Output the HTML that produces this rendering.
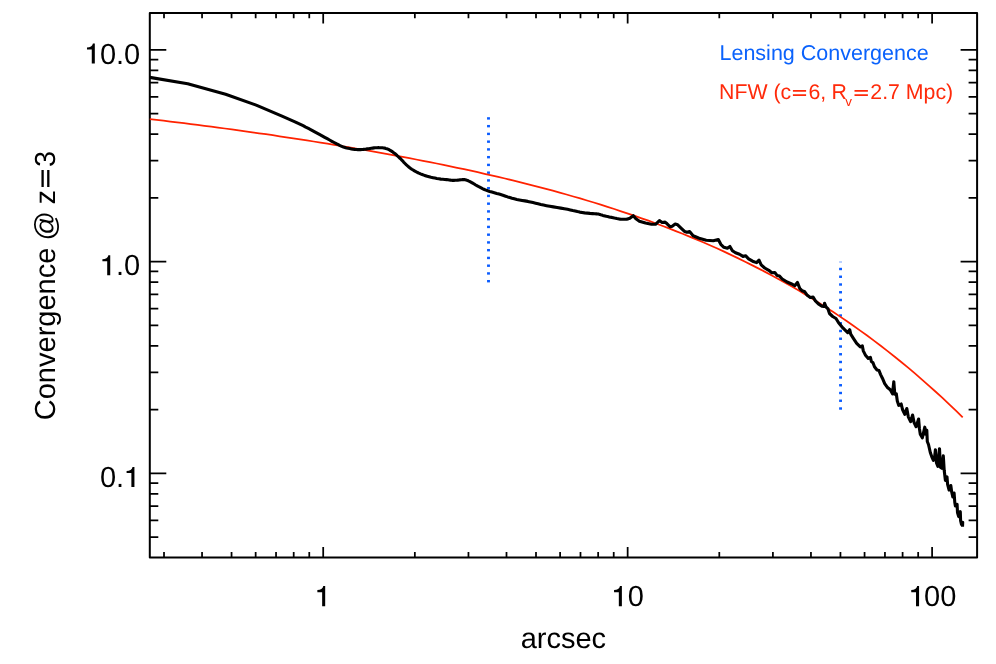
<!DOCTYPE html>
<html><head><meta charset="utf-8"><title>Convergence profile</title>
<style>
html,body{margin:0;padding:0;background:#fff;}
body{width:996px;height:664px;overflow:hidden;}
svg{display:block;font-family:"Liberation Sans",sans-serif;will-change:transform;text-rendering:geometricPrecision;}

</style></head><body>
<svg width="996" height="664" viewBox="0 0 996 664">
<rect width="996" height="664" fill="#fff"/>
<path d="M149.8,537.14h8.5 M977.1,537.14h-8.5 M149.8,520.38h8.5 M977.1,520.38h-8.5 M149.8,506.20h8.5 M977.1,506.20h-8.5 M149.8,493.92h8.5 M977.1,493.92h-8.5 M149.8,483.09h8.5 M977.1,483.09h-8.5 M149.8,473.40h16.5 M977.1,473.40h-16.5 M149.8,409.66h8.5 M977.1,409.66h-8.5 M149.8,372.37h8.5 M977.1,372.37h-8.5 M149.8,345.91h8.5 M977.1,345.91h-8.5 M149.8,325.39h8.5 M977.1,325.39h-8.5 M149.8,308.63h8.5 M977.1,308.63h-8.5 M149.8,294.45h8.5 M977.1,294.45h-8.5 M149.8,282.17h8.5 M977.1,282.17h-8.5 M149.8,271.34h8.5 M977.1,271.34h-8.5 M149.8,261.65h16.5 M977.1,261.65h-16.5 M149.8,197.91h8.5 M977.1,197.91h-8.5 M149.8,160.62h8.5 M977.1,160.62h-8.5 M149.8,134.16h8.5 M977.1,134.16h-8.5 M149.8,113.64h8.5 M977.1,113.64h-8.5 M149.8,96.88h8.5 M977.1,96.88h-8.5 M149.8,82.70h8.5 M977.1,82.70h-8.5 M149.8,70.42h8.5 M977.1,70.42h-8.5 M149.8,59.59h8.5 M977.1,59.59h-8.5 M149.8,49.90h16.5 M977.1,49.90h-16.5 M164.01,557.4v-5.3 M164.01,12.9v5.3 M202.05,557.4v-5.3 M202.05,12.9v5.3 M231.55,557.4v-5.3 M231.55,12.9v5.3 M255.66,557.4v-5.3 M255.66,12.9v5.3 M276.04,557.4v-5.3 M276.04,12.9v5.3 M293.70,557.4v-5.3 M293.70,12.9v5.3 M309.27,557.4v-5.3 M309.27,12.9v5.3 M323.20,557.4v-10.5 M323.20,12.9v10.5 M414.85,557.4v-5.3 M414.85,12.9v5.3 M468.46,557.4v-5.3 M468.46,12.9v5.3 M506.50,557.4v-5.3 M506.50,12.9v5.3 M536.00,557.4v-5.3 M536.00,12.9v5.3 M560.11,557.4v-5.3 M560.11,12.9v5.3 M580.49,557.4v-5.3 M580.49,12.9v5.3 M598.15,557.4v-5.3 M598.15,12.9v5.3 M613.72,557.4v-5.3 M613.72,12.9v5.3 M627.65,557.4v-10.5 M627.65,12.9v10.5 M719.30,557.4v-5.3 M719.30,12.9v5.3 M772.91,557.4v-5.3 M772.91,12.9v5.3 M810.95,557.4v-5.3 M810.95,12.9v5.3 M840.45,557.4v-5.3 M840.45,12.9v5.3 M864.56,557.4v-5.3 M864.56,12.9v5.3 M884.94,557.4v-5.3 M884.94,12.9v5.3 M902.60,557.4v-5.3 M902.60,12.9v5.3 M918.17,557.4v-5.3 M918.17,12.9v5.3 M932.10,557.4v-10.5 M932.10,12.9v10.5" stroke="#000" stroke-width="1.75" fill="none"/>
<rect x="149.8" y="12.9" width="827.3" height="544.5" fill="none" stroke="#000" stroke-width="2.0" stroke-linejoin="round"/>
<rect x="487.05" y="117.20" width="2.9" height="2.4" fill="#0a5cff"/><rect x="487.05" y="124.95" width="2.9" height="2.4" fill="#0a5cff"/><rect x="487.05" y="132.70" width="2.9" height="2.4" fill="#0a5cff"/><rect x="487.05" y="140.46" width="2.9" height="2.4" fill="#0a5cff"/><rect x="487.05" y="148.21" width="2.9" height="2.4" fill="#0a5cff"/><rect x="487.05" y="155.96" width="2.9" height="2.4" fill="#0a5cff"/><rect x="487.05" y="163.71" width="2.9" height="2.4" fill="#0a5cff"/><rect x="487.05" y="171.46" width="2.9" height="2.4" fill="#0a5cff"/><rect x="487.05" y="179.22" width="2.9" height="2.4" fill="#0a5cff"/><rect x="487.05" y="186.97" width="2.9" height="2.4" fill="#0a5cff"/><rect x="487.05" y="194.72" width="2.9" height="2.4" fill="#0a5cff"/><rect x="487.05" y="202.47" width="2.9" height="2.4" fill="#0a5cff"/><rect x="487.05" y="210.22" width="2.9" height="2.4" fill="#0a5cff"/><rect x="487.05" y="217.98" width="2.9" height="2.4" fill="#0a5cff"/><rect x="487.05" y="225.73" width="2.9" height="2.4" fill="#0a5cff"/><rect x="487.05" y="233.48" width="2.9" height="2.4" fill="#0a5cff"/><rect x="487.05" y="241.23" width="2.9" height="2.4" fill="#0a5cff"/><rect x="487.05" y="248.98" width="2.9" height="2.4" fill="#0a5cff"/><rect x="487.05" y="256.74" width="2.9" height="2.4" fill="#0a5cff"/><rect x="487.05" y="264.49" width="2.9" height="2.4" fill="#0a5cff"/><rect x="487.05" y="272.24" width="2.9" height="2.4" fill="#0a5cff"/><rect x="487.05" y="279.99" width="2.9" height="2.4" fill="#0a5cff"/>
<rect x="839.10" y="267.80" width="2.9" height="2.4" fill="#0a5cff"/><rect x="839.10" y="275.55" width="2.9" height="2.4" fill="#0a5cff"/><rect x="839.10" y="283.30" width="2.9" height="2.4" fill="#0a5cff"/><rect x="839.10" y="291.05" width="2.9" height="2.4" fill="#0a5cff"/><rect x="839.10" y="298.80" width="2.9" height="2.4" fill="#0a5cff"/><rect x="839.10" y="306.55" width="2.9" height="2.4" fill="#0a5cff"/><rect x="839.10" y="314.30" width="2.9" height="2.4" fill="#0a5cff"/><rect x="839.10" y="322.05" width="2.9" height="2.4" fill="#0a5cff"/><rect x="839.10" y="329.80" width="2.9" height="2.4" fill="#0a5cff"/><rect x="839.10" y="337.55" width="2.9" height="2.4" fill="#0a5cff"/><rect x="839.10" y="345.30" width="2.9" height="2.4" fill="#0a5cff"/><rect x="839.10" y="353.05" width="2.9" height="2.4" fill="#0a5cff"/><rect x="839.10" y="360.80" width="2.9" height="2.4" fill="#0a5cff"/><rect x="839.10" y="368.55" width="2.9" height="2.4" fill="#0a5cff"/><rect x="839.10" y="376.30" width="2.9" height="2.4" fill="#0a5cff"/><rect x="839.10" y="384.05" width="2.9" height="2.4" fill="#0a5cff"/><rect x="839.10" y="391.80" width="2.9" height="2.4" fill="#0a5cff"/><rect x="839.10" y="399.55" width="2.9" height="2.4" fill="#0a5cff"/><rect x="839.10" y="407.30" width="2.9" height="2.4" fill="#0a5cff"/>
<rect x="839.10" y="261.5" width="2.9" height="1.0" fill="#0a5cff" opacity="0.55"/>
<path d="M149.8,119.2 L156.6,119.9 L163.5,120.7 L170.3,121.6 L177.1,122.4 L184.0,123.2 L190.8,124.1 L197.6,124.9 L204.4,125.8 L211.3,126.7 L218.1,127.6 L224.9,128.5 L231.8,129.4 L238.6,130.4 L245.4,131.3 L252.3,132.3 L259.1,133.3 L265.9,134.2 L272.8,135.2 L279.6,136.3 L286.4,137.3 L293.3,138.3 L300.1,139.4 L306.9,140.4 L313.7,141.5 L320.6,142.6 L327.4,143.7 L334.2,144.8 L341.1,146.0 L347.9,147.1 L354.7,148.3 L361.6,149.5 L368.4,150.6 L375.2,151.9 L382.1,153.1 L388.9,154.3 L395.7,155.6 L402.6,156.9 L409.4,158.1 L416.2,159.5 L423.0,160.8 L429.9,162.1 L436.7,163.5 L443.5,164.9 L450.4,166.3 L457.2,167.8 L464.0,169.2 L470.9,170.7 L477.7,172.2 L484.5,173.8 L491.4,175.3 L498.2,176.9 L505.0,178.5 L511.8,180.2 L518.7,181.9 L525.5,183.6 L532.3,185.3 L539.2,187.1 L546.0,188.9 L552.8,190.7 L559.7,192.6 L566.5,194.5 L573.3,196.5 L580.2,198.4 L587.0,200.5 L593.8,202.5 L600.7,204.7 L607.5,206.8 L614.3,209.0 L621.1,211.3 L628.0,213.6 L634.8,215.9 L641.6,218.3 L648.5,220.7 L655.3,223.2 L662.1,225.8 L669.0,228.4 L675.8,231.1 L682.6,233.8 L689.5,236.6 L696.3,239.4 L703.1,242.3 L709.9,245.3 L716.8,248.3 L723.6,251.4 L730.4,254.6 L737.3,257.9 L744.1,261.2 L750.9,264.6 L757.8,268.1 L764.6,271.6 L771.4,275.2 L778.3,279.0 L785.1,282.7 L791.9,286.6 L798.8,290.6 L805.6,294.7 L812.4,298.8 L819.2,303.0 L826.1,307.4 L832.9,311.8 L839.7,316.4 L846.6,321.0 L853.4,325.7 L860.2,330.6 L867.1,335.5 L873.9,340.6 L880.7,345.8 L887.6,351.1 L894.4,356.5 L901.2,362.0 L908.1,367.6 L914.9,373.4 L921.7,379.3 L928.5,385.3 L935.4,391.5 L942.2,397.7 L949.0,404.2 L955.9,410.7 L962.7,417.4" stroke="#ff2200" stroke-width="1.75" fill="none" stroke-linejoin="round"/>
<path d="M149.8,77.4 L187.7,83.8 L225.6,94.3 L256.2,105.1 L282.0,116.1 L295.0,121.8 L297.7,123.1 L300.4,124.4 L303.1,125.7 L305.7,127.1 L308.4,128.4 L311.1,129.8 L313.8,131.3 L316.6,132.8 L319.4,134.3 L322.1,135.8 L324.7,137.3 L327.2,138.7 L329.6,140.0 L331.9,141.3 L334.1,142.5 L336.3,143.7 L338.3,144.7 L340.1,145.6 L341.7,146.3 L343.1,146.9 L344.4,147.3 L345.6,147.7 L346.8,148.0 L348.2,148.3 L349.7,148.6 L351.3,148.9 L353.0,149.2 L354.7,149.4 L356.3,149.5 L357.8,149.6 L359.2,149.6 L360.6,149.6 L361.9,149.5 L363.3,149.4 L364.6,149.2 L365.9,149.1 L367.3,148.9 L368.7,148.7 L370.1,148.5 L371.4,148.3 L372.7,148.1 L374.0,147.9 L375.2,147.8 L376.3,147.7 L377.3,147.7 L378.3,147.6 L379.4,147.7 L380.4,147.7 L381.5,147.8 L382.5,147.8 L383.6,148.0 L384.7,148.1 L385.7,148.4 L386.8,148.7 L387.9,149.1 L389.0,149.7 L390.1,150.3 L391.1,150.9 L392.2,151.6 L393.3,152.4 L394.4,153.2 L395.4,154.0 L396.4,154.9 L397.4,155.9 L398.5,156.9 L399.7,158.0 L401.0,159.2 L402.3,160.6 L403.6,162.1 L405.0,163.5 L406.4,164.9 L407.8,166.1 L409.1,167.2 L410.4,168.2 L411.8,169.2 L413.1,170.0 L414.5,170.9 L415.9,171.7 L417.4,172.5 L418.9,173.2 L420.5,173.9 L422.1,174.5 L423.8,175.1 L425.5,175.7 L427.3,176.3 L429.1,176.8 L431.0,177.3 L433.0,177.7 L434.9,178.1 L436.8,178.5 L438.8,178.8 L440.8,179.1 L442.8,179.3 L444.8,179.5 L446.6,179.6 L448.1,179.8 L449.3,180.0 L450.2,180.1 L450.9,180.2 L451.6,180.3 L452.3,180.4 L453.1,180.4 L454.0,180.4 L455.0,180.3 L456.0,180.3 L457.0,180.2 L458.0,180.1 L459.0,180.0 L459.9,179.9 L460.8,179.8 L461.7,179.7 L462.5,179.6 L463.4,179.5 L464.3,179.6 L465.2,179.8 L466.1,180.0 L466.9,180.3 L467.9,180.6 L468.9,181.1 L470.0,181.6 L471.3,182.3 L472.7,183.1 L474.2,184.0 L475.7,185.0 L477.3,185.9 L478.8,186.7 L480.2,187.4 L481.6,188.1 L482.9,188.8 L484.4,189.5 L485.9,190.1 L487.7,190.8 L489.7,191.5 L491.9,192.1 L494.3,192.8 L496.7,193.5 L499.1,194.1 L501.4,194.8 L503.6,195.5 L505.6,196.2 L507.7,196.9 L509.8,197.5 L512.0,198.2 L514.3,198.8 L516.8,199.4 L519.4,199.9 L522.1,200.4 L524.9,200.9 L527.7,201.4 L530.4,202.0 L533.0,202.6 L535.6,203.2 L538.1,203.8 L540.8,204.5 L543.5,205.1 L546.5,205.7 L549.8,206.3 L553.4,206.9 L557.1,207.5 L560.8,208.1 L564.3,208.7 L567.5,209.3 L570.3,209.9 L572.8,210.5 L575.2,211.0 L577.4,211.6 L579.7,212.1 L582.0,212.5 L584.6,212.9 L587.3,213.1 L590.0,213.4 L592.6,213.6 L594.8,213.8 L596.5,213.9 L597.6,214.0 L598.1,214.0 L598.3,214.0 L598.3,214.0 L598.5,214.1 L599.0,214.2 L599.8,214.4 L600.7,214.7 L601.7,215.0 L602.8,215.4 L603.9,215.7 L605.1,216.0 L606.3,216.3 L607.7,216.6 L609.1,216.9 L610.5,217.2 L611.9,217.4 L613.2,217.7 L614.4,218.0 L615.6,218.2 L616.8,218.5 L618.0,218.7 L619.1,218.9 L620.2,219.1 L621.3,219.2 L622.4,219.3 L623.5,219.3 L624.5,219.3 L625.4,219.3 L626.3,219.2 L627.0,219.1 L627.7,219.0 L628.2,218.8 L628.7,218.6 L629.2,218.5 L629.8,218.3 L633.3,215.7 L635.9,218.8 L639.4,221.3 L645.5,223.1 L651.5,224.3 L655.5,224.3 L657.6,222.3 L659.4,220.6 L662.1,222.5 L665.1,222.1 L667.1,223.8 L670.2,226.8 L672.2,226.3 L675.2,224.1 L677.7,224.8 L681.3,228.3 L684.8,231.6 L686.8,232.2 L689.6,231.5 L693.1,235.7 L699.1,238.2 L706.2,240.2 L713.3,240.7 L718.3,239.5 L720.8,244.3 L723.9,247.3 L727.4,248.3 L729.9,246.5 L732.4,250.8 L735.5,252.8 L739.5,254.2 L743.0,256.4 L745.5,255.7 L748.6,258.9 L752.6,261.2 L756.6,262.6 L759.0,260.2 L761.2,264.9 L764.7,268.0 L768.8,270.3 L771.8,272.7 L774.8,272.5 L777.2,275.6 L779.5,276.1 L782.2,279.0 L787.1,282.0 L791.1,283.7 L794.7,285.7 L797.4,282.4 L799.7,288.3 L802.2,290.8 L804.8,291.8 L807.3,295.3 L810.3,297.5 L813.1,297.1 L815.4,300.9 L818.4,303.9 L821.9,306.2 L823.9,306.4 L824.6,303.2 L826.0,306.9 L828.0,308.9 L829.5,313.5 L832.7,316.5 L836.0,318.5 L838.6,322.8 L843.1,328.2 L847.7,332.7 L849.7,329.7 L850.7,334.2 L853.7,338.8 L856.7,343.3 L860.3,346.8 L862.3,345.8 L863.3,350.9 L865.3,354.9 L868.3,358.4 L870.4,357.4 L871.4,361.5 L873.0,362.8 L874.5,366.8 L877.0,370.0 L879.0,370.5 L880.6,374.6 L882.4,378.2 L884.7,383.7 L887.2,387.2 L890.3,389.8 L892.5,393.8 L893.8,381.7 L894.8,394.3 L896.3,393.8 L897.3,401.0 L898.8,405.4 L901.2,404.0 L902.5,409.5 L904.8,414.3 L906.8,408.5 L908.3,416.8 L910.6,421.7 L912.6,415.0 L914.1,422.6 L916.1,426.7 L918.6,419.0 L919.4,428.5 L920.3,434.3 L922.3,437.8 L924.8,427.2 L925.8,434.3 L926.8,430.3 L927.3,441.5 L928.5,444.5 L930.3,452.5 L931.9,457.0 L933.4,460.3 L934.4,459.2 L935.4,449.7 L936.5,463.0 L937.9,466.3 L939.5,448.7 L940.4,467.2 L941.9,468.3 L943.3,455.8 L944.2,470.3 L945.4,480.4 L947.0,476.8 L947.6,484.4 L949.1,490.0 L950.8,485.5 L951.7,492.0 L952.8,497.0 L954.1,493.0 L954.8,502.5 L955.4,506.0 L957.1,504.4 L957.5,512.5 L958.7,516.6 L960.3,511.7 L960.6,520.7 L961.5,524.3 L962.7,522.3 L962.5,526.7" stroke="#000" stroke-width="3.1" fill="none" stroke-linejoin="round" stroke-linecap="butt"/>
<path d="M91.77,63.60H94.82V43.44H92.93C92.44,46.20 90.27,47.36 86.99,47.50V49.53H91.77Z" fill="#000"/><text x="107.95" y="63.6" text-anchor="middle" font-size="29">0</text><text x="120.04" y="63.6" text-anchor="middle" font-size="29">.</text><text x="132.14" y="63.6" text-anchor="middle" font-size="29">0</text>
<path d="M107.20,275.35H110.24V255.19H108.36C107.86,257.95 105.69,259.11 102.41,259.25V261.28H107.20Z" fill="#000"/><text x="120.04" y="275.3" text-anchor="middle" font-size="29">.</text><text x="132.14" y="275.3" text-anchor="middle" font-size="29">0</text>
<text x="107.95" y="487.1" text-anchor="middle" font-size="29">0</text><text x="120.04" y="487.1" text-anchor="middle" font-size="29">.</text><path d="M131.38,487.10H134.43V466.94H132.54C132.05,469.70 129.88,470.86 126.60,471.00V473.03H131.38Z" fill="#000"/>
<path d="M322.15,606.20H325.19V586.05H323.31C322.81,588.80 320.64,589.96 317.36,590.11V592.13H322.15Z" fill="#000"/>
<path d="M618.83,606.20H621.88V586.05H619.99C619.50,588.80 617.33,589.96 614.05,590.11V592.13H618.83Z" fill="#000"/><text x="635.71" y="606.2" text-anchor="middle" font-size="29">0</text>
<path d="M916.02,606.20H919.07V586.05H917.18C916.69,588.80 914.51,589.96 911.24,590.11V592.13H916.02Z" fill="#000"/><text x="932.10" y="606.2" text-anchor="middle" font-size="29">0</text><text x="948.22" y="606.2" text-anchor="middle" font-size="29">0</text>
<text x="563.4" y="648.4" text-anchor="middle" font-size="29">arcsec</text>
<text transform="translate(54.7,420.20) rotate(-90)" font-size="29">Convergence</text>
<text transform="translate(54.7,240.50) rotate(-90)" font-size="29">@</text>
<text transform="translate(54.7,204.60) rotate(-90)" font-size="29">z</text>
<path d="M42.6,187.0V169.9M48.3,187.0V169.9" stroke="#000" stroke-width="2.3" fill="none"/>
<text transform="translate(54.7,167.10) rotate(-90)" font-size="29">3</text>
<text x="719.5" y="59.8" font-size="21.5" fill="#0a62fc">Lensing Convergence</text>
<text x="719.00" y="99.40" font-size="21.3" fill="#ff2a0a">NFW (c</text>
<path d="M792.90,90.85H806.10M792.90,95.05H806.10" stroke="#ff2a0a" stroke-width="1.8" fill="none"/>
<text x="808.40" y="99.40" font-size="21.3" fill="#ff2a0a">6,</text>
<text x="831.50" y="99.40" font-size="21.3" fill="#ff2a0a">R</text>
<text x="845.20" y="105.60" font-size="13.4" fill="#ff2a0a">v</text>
<path d="M854.50,90.85H867.90M854.50,95.05H867.90" stroke="#ff2a0a" stroke-width="1.8" fill="none"/>
<text x="870.30" y="99.40" font-size="21.3" fill="#ff2a0a">2.7 Mpc)</text>
</svg>
</body></html>
